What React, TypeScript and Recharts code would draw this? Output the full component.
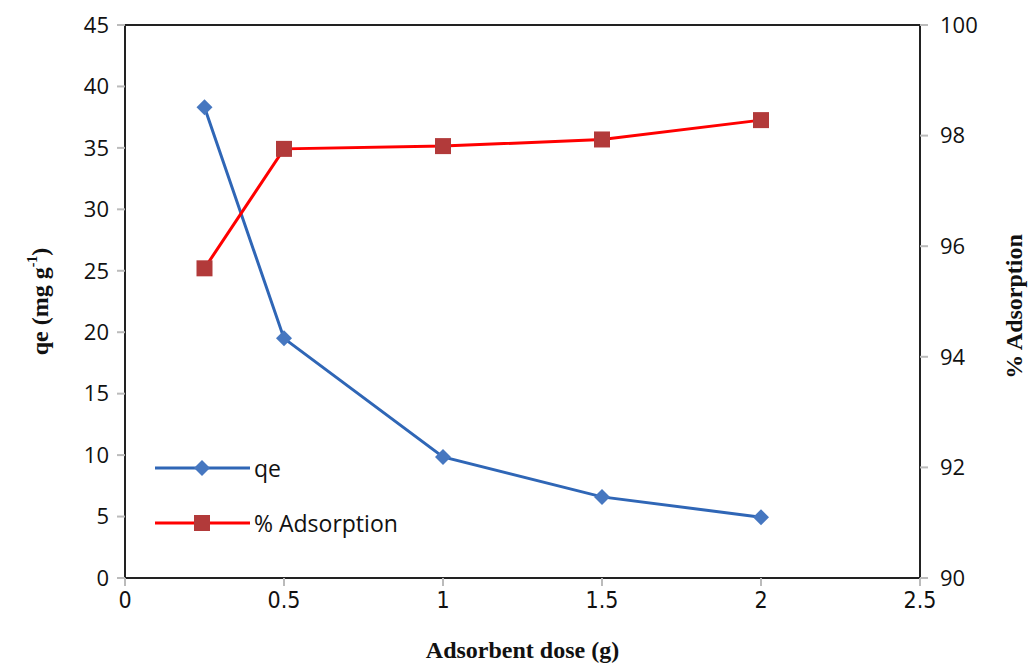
import React from "react";
import {
  ComposedChart,
  Line,
  XAxis,
  YAxis,
  ReferenceLine,
} from "recharts";

const doses = [0.25, 0.5, 1, 1.5, 2];
const qeValues = [38.3, 19.5, 9.85, 6.6, 4.95];
const adsorptionValues = [95.6, 97.76, 97.81, 97.93, 98.28];

const xTicks = [0, 0.5, 1, 1.5, 2, 2.5];
const leftTicks = [0, 5, 10, 15, 20, 25, 30, 35, 40, 45];
const rightTicks = [90, 92, 94, 96, 98, 100];

const data = doses.map((dose, i) => ({
  dose,
  qe: qeValues[i],
  adsorption: adsorptionValues[i],
}));

const BLUE = "#2f66b6";
const BLUE_MARK = "#4677c0";
const RED = "#ff0000";
const RED_MARK = "#b23a3a";
const TICK_FONT = "'Open Sans', sans-serif";
const TITLE_FONT = "'Liberation Serif', 'Times New Roman', serif";

const Diamond = (props: any) => {
  const { cx, cy } = props;
  if (cx == null || cy == null) return null;
  const r = 8;
  return (
    <path
      d={`M${cx},${cy - r} L${cx + r},${cy} L${cx},${cy + r} L${cx - r},${cy} Z`}
      fill={BLUE_MARK}
    />
  );
};

const Square = (props: any) => {
  const { cx, cy } = props;
  if (cx == null || cy == null) return null;
  const s = 8;
  return <rect x={cx - s} y={cy - s} width={s * 2} height={s * 2} fill={RED_MARK} />;
};

const LeftTitle = (props: any) => {
  const { viewBox } = props;
  const cx = 40;
  const cy = viewBox.y + viewBox.height / 2;
  return (
    <text
      transform={`translate(${cx},${cy}) rotate(-90)`}
      textAnchor="middle"
      dominantBaseline="central"
      fontFamily={TITLE_FONT}
      fontWeight="bold"
      fontSize={24}
      fill="#111"
    >
      qe (mg g
      <tspan dy={-8} fontSize={14}>-1</tspan>
      <tspan dy={8}>)</tspan>
    </text>
  );
};

const RightTitle = (props: any) => {
  const { viewBox } = props;
  const cx = 1014;
  const cy = viewBox.y + viewBox.height / 2 + 5;
  return (
    <text
      transform={`translate(${cx},${cy}) rotate(-90)`}
      textAnchor="middle"
      dominantBaseline="central"
      fontFamily={TITLE_FONT}
      fontWeight="bold"
      fontSize={24}
      fill="#111"
    >
      % Adsorption
    </text>
  );
};

// legend sits inside the plot area, lower left
const LegendBox = () => (
  <svg
    width={270}
    height={90}
    style={{ position: "absolute", left: 150, top: 450, overflow: "visible" }}
  >
    <line x1={5} y1={18} x2={100} y2={18} stroke={BLUE} strokeWidth={3} />
    <Diamond cx={52} cy={18} />
    <text x={104} y={18} dominantBaseline="central" fontFamily={TICK_FONT} fontSize={23} fill="#111">
      qe
    </text>
    <line x1={5} y1={73} x2={100} y2={73} stroke={RED} strokeWidth={3} />
    <Square cx={52} cy={73} />
    <text x={104} y={73} dominantBaseline="central" fontFamily={TICK_FONT} fontSize={23} fill="#111">
      % Adsorption
    </text>
  </svg>
);

export default function App() {
  return (
    <div style={{ position: "absolute", left: 0, top: 0, width: 1035, height: 666, background: "#fff" }}>
      <ComposedChart
        width={1035}
        height={666}
        data={data}
        margin={{ top: 25, right: 0, left: 0, bottom: 0 }}
      >
        <XAxis
          dataKey="dose"
          type="number"
          domain={[0, 2.5]}
          ticks={xTicks}
          height={88}
          axisLine={{ stroke: "#222", strokeWidth: 2 }}
          tickLine={{ stroke: "#bbb", strokeWidth: 2 }}
          tickSize={8}
          tick={{ fill: "#111", fontSize: 23, fontFamily: "'DejaVu Sans Condensed', 'Liberation Sans Narrow', sans-serif" }}
          tickMargin={6}
          label={{
            value: "Adsorbent dose (g)",
            position: "insideBottom",
            offset: 8,
            fill: "#111",
            fontSize: 24,
            fontWeight: "bold",
            fontFamily: TITLE_FONT,
          }}
        />
        <YAxis
          yAxisId="left"
          domain={[0, 45]}
          ticks={leftTicks}
          width={125}
          axisLine={{ stroke: "#222", strokeWidth: 2 }}
          tickLine={{ stroke: "#bbb", strokeWidth: 2 }}
          tickSize={8}
          tickMargin={8}
          tick={{ fill: "#111", fontSize: 22, fontFamily: TICK_FONT }}
          label={<LeftTitle />}
        />
        <YAxis
          yAxisId="right"
          orientation="right"
          domain={[90, 100]}
          ticks={rightTicks}
          width={115}
          axisLine={{ stroke: "#222", strokeWidth: 2 }}
          tickLine={{ stroke: "#bbb", strokeWidth: 2 }}
          tickSize={8}
          tickMargin={12}
          tick={{ fill: "#111", fontSize: 22, fontFamily: TICK_FONT }}
          label={<RightTitle />}
        />
        <ReferenceLine yAxisId="left" y={45} stroke="#222" strokeWidth={2} />
        <Line
          yAxisId="left"
          dataKey="qe"
          stroke={BLUE}
          strokeWidth={3}
          dot={<Diamond />}
          activeDot={false}
          isAnimationActive={false}
        />
        <Line
          yAxisId="right"
          dataKey="adsorption"
          stroke={RED}
          strokeWidth={3}
          dot={<Square />}
          activeDot={false}
          isAnimationActive={false}
        />
      </ComposedChart>
      <LegendBox />
    </div>
  );
}
